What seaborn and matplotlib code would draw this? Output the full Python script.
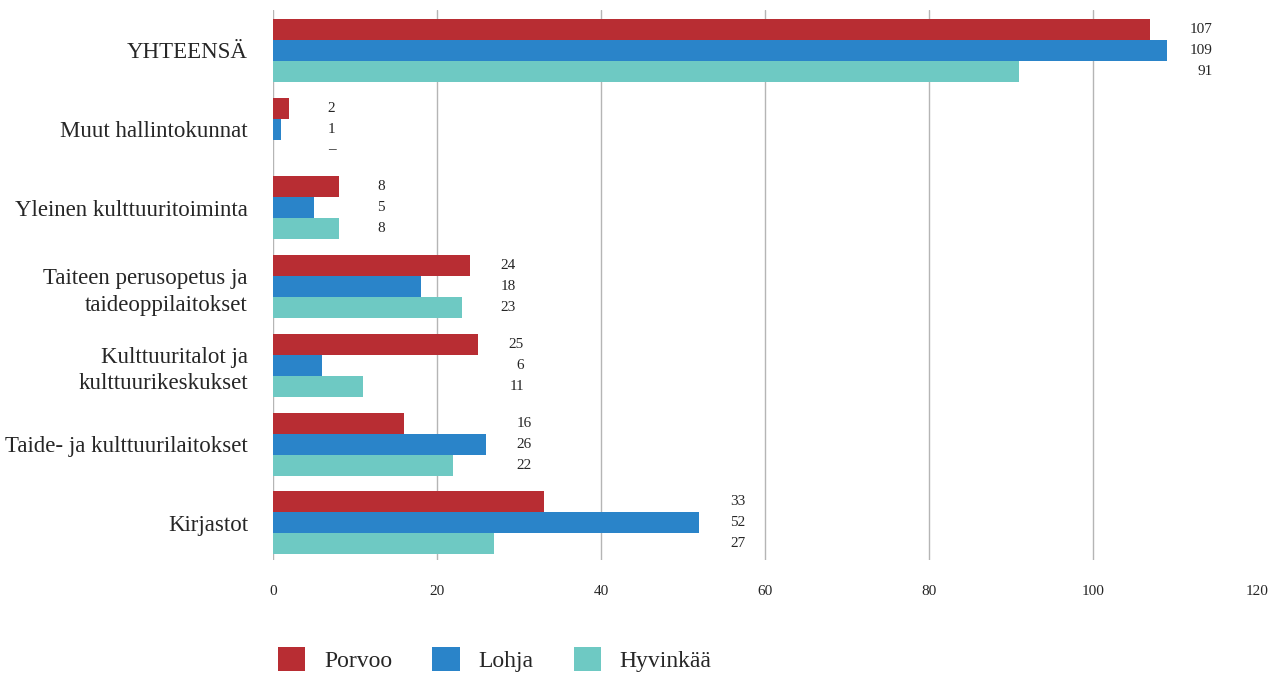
import numpy as np
import pandas as pd
import matplotlib.pyplot as plt
import seaborn as sns
from matplotlib.patches import Patch

# Data
categories = ['YHTEENSÄ', 'Muut hallintokunnat', 'Yleinen kulttuuritoiminta',
              'Taiteen perusopetus ja\ntaideoppilaitokset',
              'Kulttuuritalot ja\nkulttuurikeskukset',
              'Taide- ja kulttuurilaitokset', 'Kirjastot']
towns = ['Porvoo', 'Lohja', 'Hyvinkää']
porvoo = [107, 2, 8, 24, 25, 16, 33]
lohja = [109, 1, 5, 18, 6, 26, 52]
hyvinkaa = [91, 0, 8, 23, 11, 22, 27]
labels_hyvinkaa = ['91', '–', '8', '23', '11', '22', '27']
xticks = [0, 20, 40, 60, 80, 100, 120]
colors = ['#b82d33', '#2a84c9', '#6ec9c3']

df = pd.DataFrame({'Kategoria': categories * 3,
                   'Kunta': np.repeat(towns, len(categories)),
                   'Arvo': porvoo + lohja + hyvinkaa})

sns.set_style('white')
plt.rcParams['font.family'] = ['Liberation Serif', 'DejaVu Serif']

fig = plt.figure(figsize=(12.78, 6.73), dpi=100)
ax = fig.add_axes([0.2136, 0.168, 0.77, 0.817])

sns.barplot(data=df, y='Kategoria', x='Arvo', hue='Kunta', palette=colors,
            orient='h', width=0.8, saturation=1, linewidth=0, ax=ax, legend=False)

ax.set_xlim(0, 120)
ax.set_ylim(6.47, -0.51)
ax.set_xticks(xticks)
ax.set_xticklabels([str(t) for t in xticks], fontsize=11)
ax.tick_params(axis='x', length=0, pad=18)
ax.tick_params(axis='y', length=0, pad=18, labelsize=16.5)
for lbl in ax.get_yticklabels():
    lbl.set_multialignment('right')
    lbl.set_linespacing(1.35)
ax.set_xlabel('')
ax.set_ylabel('')
for s in ax.spines.values():
    s.set_visible(False)
ax.grid(axis='x', color='#b5b5b5', linewidth=1)
ax.xaxis.get_gridlines()[-1].set_visible(False)
ax.set_axisbelow(True)

# value labels, right aligned a bit past the longest bar in each group
texts = [[str(v) for v in porvoo], [str(v) for v in lohja], labels_hyvinkaa]
for i in range(len(categories)):
    xpos = max(porvoo[i], lohja[i], hyvinkaa[i]) + 5.6
    for j in range(3):
        ax.text(xpos, i + (j - 1) * 0.2667, texts[j][i], ha='right', va='center',
                fontsize=11)

handles = [Patch(facecolor=c, edgecolor='none') for c in colors]
fig.legend(handles, towns, loc='lower left', bbox_to_anchor=(0.201, -0.03),
           ncol=3, frameon=False, fontsize=17, handlelength=1.15, handleheight=1.15,
           handletextpad=0.8, columnspacing=1.7)

fig.savefig('out.png', dpi=100)
